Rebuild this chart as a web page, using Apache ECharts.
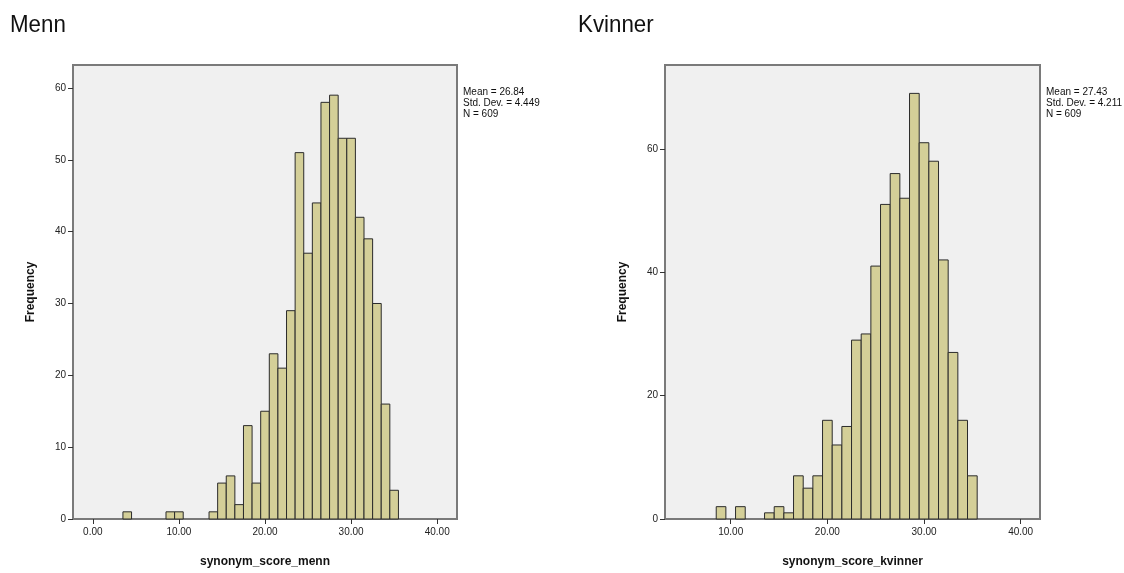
<!DOCTYPE html>
<html>
<head>
<meta charset="utf-8">
<script src="https://cdn.jsdelivr.net/npm/echarts@6/dist/echarts.min.js"></script>
<style>html,body{margin:0;padding:0;background:#fff}#c{width:1124px;height:573px}</style>
</head>
<body>
<div id="c"></div>
<script>
const titles = ['Menn', 'Kvinner'];
const xTitles = ['synonym_score_menn', 'synonym_score_kvinner'];
const stats = [['Mean = 26.84', 'Std. Dev. = 4.449', 'N = 609'], ['Mean = 27.43', 'Std. Dev. = 4.211', 'N = 609']];

const mennScores = [4, 9, 10, 14, 15, 16, 17, 18, 19, 20, 21, 22, 23, 24, 25, 26, 27, 28, 29, 30, 31, 32, 33, 34, 35];
const mennCounts = [1, 1, 1, 1, 5, 6, 2, 13, 5, 15, 23, 21, 29, 51, 37, 44, 58, 59, 53, 53, 42, 39, 30, 16, 4];

const kvinnerScores = [9, 11, 14, 15, 16, 17, 18, 19, 20, 21, 22, 23, 24, 25, 26, 27, 28, 29, 30, 31, 32, 33, 34, 35];
const kvinnerCounts = [2, 2, 1, 2, 1, 7, 5, 7, 16, 12, 15, 29, 30, 41, 51, 56, 52, 69, 61, 58, 42, 27, 16, 7];

const mennXTicks = [0, 10, 20, 30, 40];
const kvinnerXTicks = [10, 20, 30, 40];
const mennYTicks = [0, 10, 20, 30, 40, 50, 60];
const kvinnerYTicks = [0, 20, 40, 60];

const binWidth = 1;

const chart = echarts.init(document.getElementById('c'));
const font = '"Liberation Sans", Arial, sans-serif';
const frame = '#7a7a7a';

function xAxis(gi, min, max, ticks, name) {
  return {
    type: 'value', gridIndex: gi, min: min, max: max,
    name: name, nameLocation: 'middle', nameGap: 37,
    nameTextStyle: { fontFamily: font, fontWeight: 'bold', fontSize: 12, color: '#111' },
    axisLine: { show: true, onZero: false, lineStyle: { color: frame, width: 2 } },
    axisTick: { show: true, inside: false, length: 5, customValues: ticks, lineStyle: { color: '#333', width: 1 } },
    axisLabel: { customValues: ticks, margin: 8, fontFamily: font, fontSize: 10, color: '#222',
      formatter: v => v.toFixed(2) },
    splitLine: { show: false }
  };
}
function yAxis(gi, max, ticks) {
  return {
    type: 'value', gridIndex: gi, min: 0, max: max,
    name: 'Frequency', nameLocation: 'middle', nameGap: 36, nameRotate: 90,
    nameTextStyle: { fontFamily: font, fontWeight: 'bold', fontSize: 12, color: '#111' },
    axisLine: { show: true, onZero: false, lineStyle: { color: frame, width: 2 } },
    axisTick: { show: true, inside: false, length: 5, customValues: ticks, lineStyle: { color: '#333', width: 1 } },
    axisLabel: { customValues: ticks, margin: 7, fontFamily: font, fontSize: 10, color: '#222' },
    splitLine: { show: false }
  };
}
function histSeries(gi, scores, counts) {
  return {
    type: 'custom', xAxisIndex: gi, yAxisIndex: gi,
    data: scores.map((s, i) => [s, counts[i]]),
    renderItem: function (params, api) {
      const x = api.value(0), y = api.value(1);
      const p0 = api.coord([x - binWidth / 2, y]);
      const p1 = api.coord([x + binWidth / 2, 0]);
      return {
        type: 'rect',
        shape: { x: p0[0], y: p0[1], width: p1[0] - p0[0], height: p1[1] - p0[1] },
        style: { fill: '#D4CF98', stroke: '#2b2b2b', lineWidth: 1 }
      };
    }
  };
}

const titleFont = '"Liberation Sans Narrow", "Liberation Sans", Arial';

chart.setOption({
  animation: false,
  backgroundColor: '#ffffff',
  grid: [
    { left: 73, top: 65, width: 384, height: 458, show: true, backgroundColor: '#F0F0F0', borderColor: frame, borderWidth: 2 },
    { left: 665, top: 65, width: 375, height: 458, show: true, backgroundColor: '#F0F0F0', borderColor: frame, borderWidth: 2 }
  ],
  graphic: [
    { type: 'text', x: 10, y: 13, scaleX: 0.93, style: { text: titles[0], fontFamily: titleFont, fontSize: 24, fill: '#111' } },
    { type: 'text', x: 578, y: 13, scaleX: 0.93, style: { text: titles[1], fontFamily: titleFont, fontSize: 24, fill: '#111' } },
    { type: 'text', left: 463, top: 87, style: { text: stats[0].join('\n'), fontFamily: font, fontSize: 10, lineHeight: 11, fill: '#111' } },
    { type: 'text', left: 1046, top: 87, style: { text: stats[1].join('\n'), fontFamily: font, fontSize: 10, lineHeight: 11, fill: '#111' } }
  ],
  xAxis: [
    xAxis(0, -2.3, 42.3, mennXTicks, xTitles[0]),
    xAxis(1, 3.2, 42, kvinnerXTicks, xTitles[1])
  ],
  yAxis: [
    yAxis(0, 63.2, mennYTicks),
    yAxis(1, 73.6, kvinnerYTicks)
  ],
  series: [
    histSeries(0, mennScores, mennCounts),
    histSeries(1, kvinnerScores, kvinnerCounts)
  ]
});
</script>
</body>
</html>
